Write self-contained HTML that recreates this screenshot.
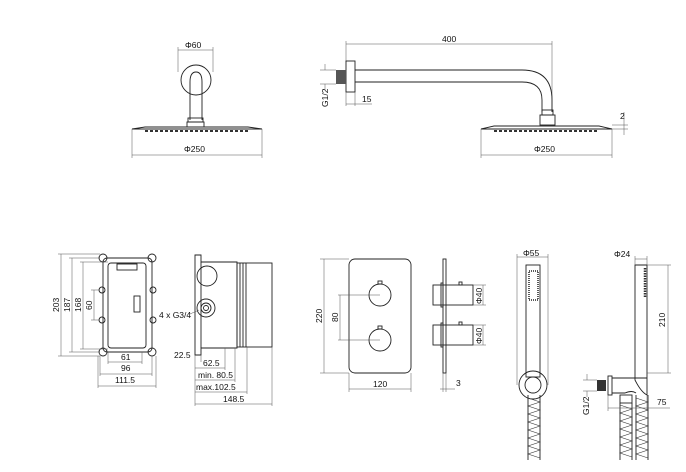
<!DOCTYPE html>
<html><head><meta charset="utf-8"><style>
html,body{margin:0;padding:0;background:#fff;width:686px;height:472px;overflow:hidden}
svg{display:block}
text{font-family:"Liberation Sans",sans-serif;font-size:8.5px;fill:#111}
.o{fill:none;stroke:#222;stroke-width:0.9}
.d{fill:none;stroke:#555;stroke-width:0.5}
</style></head><body>
<svg width="686" height="472" viewBox="0 0 686 472" xmlns="http://www.w3.org/2000/svg">
<line class="d" x1="178" y1="50" x2="213" y2="50"/><line class="d" x1="178" y1="47" x2="178" y2="72"/><line class="d" x1="213" y1="47" x2="213" y2="72"/>
<text x="185" y="48">Φ60</text>
<circle class="o" cx="196" cy="80" r="15"/>
<path class="o" d="M190 120 V82 Q190 72 196 72 Q202 72 202 82 V120"/>
<rect class="o" x="188" y="118" width="15" height="4"/><rect class="o" x="187" y="122" width="17" height="5"/>
<path class="o" d="M132 129 L145 127 H248 L262 129 Z"/>
<line x1="145" y1="131" x2="248" y2="131" stroke="#333" stroke-width="2" stroke-dasharray="3 2"/>
<line class="d" x1="132" y1="129" x2="132" y2="158"/><line class="d" x1="262" y1="129" x2="262" y2="158"/>
<line class="d" x1="132" y1="155" x2="262" y2="155"/>
<text x="184" y="152">Φ250</text>
<line class="d" x1="346" y1="44" x2="552" y2="44"/><line class="d" x1="346" y1="41" x2="346" y2="62"/><line class="d" x1="552" y1="41" x2="552" y2="110"/>
<text x="442" y="42">400</text>
<rect class="o" x="346" y="61" width="9" height="31"/>
<rect x="336" y="70" width="10" height="14" fill="#555"/>
<path class="o" d="M355 70 H522 Q552 70 552 100 V112 M355 82 H522 Q542 82 542 100 V112"/>
<rect class="o" x="542" y="110" width="11" height="5"/><rect class="o" x="540" y="115" width="15" height="10"/>
<path class="o" d="M481 129 L494 126 H599 L612 129 Z"/>
<line x1="494" y1="131" x2="599" y2="131" stroke="#333" stroke-width="2" stroke-dasharray="3 2"/>
<line class="d" x1="481" y1="129" x2="481" y2="158"/><line class="d" x1="612" y1="129" x2="612" y2="158"/>
<line class="d" x1="481" y1="155" x2="612" y2="155"/>
<text x="534" y="152">Φ250</text>
<line class="d" x1="320" y1="70" x2="336" y2="70"/><line class="d" x1="320" y1="84" x2="336" y2="84"/>
<line class="d" x1="325" y1="64" x2="325" y2="70"/><line class="d" x1="325" y1="84" x2="325" y2="90"/>
<text transform="translate(328,107) rotate(-90)">G1/2</text>
<line class="d" x1="346" y1="92" x2="346" y2="106"/><line class="d" x1="355" y1="92" x2="355" y2="106"/><line class="d" x1="346" y1="104" x2="372" y2="104"/>
<text x="362" y="102">15</text>
<line class="d" x1="612" y1="125" x2="628" y2="125"/><line class="d" x1="612" y1="129" x2="628" y2="129"/>
<line class="d" x1="624" y1="112" x2="624" y2="135"/>
<text x="620" y="119">2</text>
<rect class="o" x="103" y="258" width="49" height="94" rx="4"/>
<rect class="o" x="108" y="263" width="38" height="85" rx="3"/>
<g class="o"><circle cx="103" cy="258" r="4"/><circle cx="152" cy="258" r="4"/><circle cx="103" cy="352" r="4"/><circle cx="152" cy="352" r="4"/><circle cx="102" cy="290" r="3"/><circle cx="153" cy="290" r="3"/><circle cx="102" cy="320" r="3"/><circle cx="153" cy="320" r="3"/></g>
<rect class="o" x="117" y="264" width="20" height="6"/><rect class="o" x="134" y="296" width="6" height="16"/>
<g class="d"><line x1="58" y1="254" x2="100" y2="254"/><line x1="58" y1="356" x2="100" y2="356"/><line x1="61" y1="254" x2="61" y2="356"/>
<line x1="69" y1="258" x2="100" y2="258"/><line x1="69" y1="352" x2="100" y2="352"/><line x1="72" y1="258" x2="72" y2="352"/>
<line x1="80" y1="262" x2="108" y2="262"/><line x1="80" y1="349" x2="108" y2="349"/><line x1="83" y1="262" x2="83" y2="349"/>
<line x1="91" y1="290" x2="100" y2="290"/><line x1="91" y1="320" x2="100" y2="320"/><line x1="94" y1="290" x2="94" y2="320"/>
<line x1="108" y1="352" x2="108" y2="364"/><line x1="142" y1="352" x2="142" y2="364"/><line x1="108" y1="362" x2="142" y2="362"/>
<line x1="100" y1="356" x2="100" y2="376"/><line x1="152" y1="356" x2="152" y2="376"/><line x1="100" y1="374" x2="152" y2="374"/>
<line x1="98" y1="356" x2="98" y2="388"/><line x1="156" y1="356" x2="156" y2="388"/><line x1="98" y1="386" x2="156" y2="386"/></g>
<text transform="translate(59,312) rotate(-90)">203</text>
<text transform="translate(70,312) rotate(-90)">187</text>
<text transform="translate(81,312) rotate(-90)">168</text>
<text transform="translate(92,310) rotate(-90)">60</text>
<text x="121" y="360">61</text><text x="121" y="371">96</text><text x="115" y="383">111.5</text>
<path class="o" d="M195 255 H201 V262 H237 V348 H201 V355 H195 Z"/>
<line class="o" x1="201" y1="262" x2="201" y2="348"/>
<circle class="o" cx="207" cy="276" r="10"/>
<circle class="o" cx="206" cy="308" r="9"/><circle class="o" cx="206" cy="308" r="5"/><circle class="o" cx="206" cy="308" r="2.5"/>
<rect class="o" x="237" y="263" width="35" height="84"/>
<g class="o"><line x1="240" y1="263" x2="240" y2="347"/><line x1="243" y1="263" x2="243" y2="347"/><line x1="246" y1="263" x2="246" y2="347"/></g>
<line class="d" x1="190" y1="314" x2="199" y2="310"/>
<text x="159" y="318">4 x G3/4</text>
<text x="174" y="358">22.5</text>
<g class="d"><line x1="195" y1="355" x2="195" y2="406"/><line x1="201" y1="355" x2="201" y2="362"/><line x1="225" y1="348" x2="225" y2="370"/><line x1="235" y1="348" x2="235" y2="382"/><line x1="247" y1="347" x2="247" y2="394"/><line x1="272" y1="347" x2="272" y2="406"/>
<line x1="195" y1="368" x2="225" y2="368"/><line x1="195" y1="380" x2="235" y2="380"/><line x1="195" y1="392" x2="247" y2="392"/><line x1="195" y1="404" x2="272" y2="404"/></g>
<text x="203" y="366">62.5</text><text x="198" y="378">min. 80.5</text><text x="196" y="390">max.102.5</text><text x="223" y="402">148.5</text>
<rect class="o" x="349" y="259" width="62" height="114" rx="6"/>
<circle class="o" cx="380" cy="295" r="11"/><circle class="o" cx="380" cy="340" r="11"/>
<rect class="o" x="378" y="281" width="4" height="3"/><rect class="o" x="378" y="326" width="4" height="3"/>
<g class="d"><line x1="320" y1="259" x2="349" y2="259"/><line x1="320" y1="373" x2="349" y2="373"/><line x1="324" y1="259" x2="324" y2="373"/>
<line x1="338" y1="295" x2="380" y2="295"/><line x1="338" y1="340" x2="380" y2="340"/><line x1="340" y1="295" x2="340" y2="340"/>
<line x1="349" y1="373" x2="349" y2="392"/><line x1="411" y1="373" x2="411" y2="392"/><line x1="349" y1="389" x2="411" y2="389"/></g>
<text transform="translate(322,323) rotate(-90)">220</text>
<text transform="translate(338,322) rotate(-90)">80</text>
<text x="373" y="387">120</text>
<rect class="o" x="443" y="259" width="3" height="114"/>
<rect class="o" x="433" y="285" width="40" height="20"/><rect class="o" x="433" y="325" width="40" height="20"/>
<rect class="o" x="441" y="283" width="2" height="24"/><rect class="o" x="441" y="323" width="2" height="24"/>
<rect class="o" x="459" y="282" width="3" height="3"/><rect class="o" x="459" y="322" width="3" height="3"/>
<g class="d"><line x1="473" y1="285" x2="486" y2="285"/><line x1="473" y1="305" x2="486" y2="305"/><line x1="483" y1="285" x2="483" y2="305"/>
<line x1="473" y1="325" x2="486" y2="325"/><line x1="473" y1="345" x2="486" y2="345"/><line x1="483" y1="325" x2="483" y2="345"/>
<line x1="443" y1="373" x2="443" y2="392"/><line x1="446" y1="373" x2="446" y2="392"/><line x1="440" y1="389" x2="455" y2="389"/></g>
<text transform="translate(482,304) rotate(-90)">Φ40</text>
<text transform="translate(482,344) rotate(-90)">Φ40</text>
<text x="456" y="386">3</text>
<rect class="o" x="526" y="265" width="14" height="112"/>
<rect x="529" y="271" width="9" height="29" fill="none" stroke="#222" stroke-width="1.5" stroke-dasharray="1 1"/>
<circle class="o" cx="533" cy="385" r="14"/><circle class="o" cx="533" cy="385" r="8"/>
<path class="o" d="M528 395 V460 M540 395 V460"/>
<path d="M528 398 L540 402 L528 406 L540 410 L528 414 L540 418 L528 422 L540 426 L528 430 L540 434 L528 438 L540 442 L528 446 L540 450 L528 454 L540 458" fill="none" stroke="#333" stroke-width="0.6"/>
<g class="d"><line x1="517" y1="257" x2="548" y2="257"/><line x1="517" y1="254" x2="517" y2="385"/><line x1="548" y1="254" x2="548" y2="385"/></g>
<text x="523" y="256">Φ55</text>
<path class="o" d="M635 265 H647 V395 Q641 392 635 380 Z"/>
<line x1="645" y1="268" x2="645" y2="297" stroke="#333" stroke-width="2.5" stroke-dasharray="1.5 1"/>
<rect class="o" x="608" y="376" width="4" height="19"/>
<rect x="597" y="380" width="9" height="11" fill="#333"/>
<path class="o" d="M612 378 H647 M612 393 H625 Q632 390 636 393"/>
<rect class="o" x="620" y="395" width="12" height="8"/>
<path class="o" d="M620 403 V460 M632 403 V460 M636 395 V460 M648 395 V460"/>
<path d="M620 405 L632 409 L620 413 L632 417 L620 421 L632 425 L620 429 L632 433 L620 437 L632 441 L620 445 L632 449 L620 453 L632 457 M636 398 L648 402 L636 406 L648 410 L636 414 L648 418 L636 422 L648 426 L636 430 L648 434 L636 438 L648 442 L636 446 L648 450 L636 454 L648 458" fill="none" stroke="#333" stroke-width="0.6"/>
<g class="d"><line x1="635" y1="259" x2="647" y2="259"/><line x1="635" y1="256" x2="635" y2="265"/><line x1="647" y1="256" x2="647" y2="265"/>
<line x1="647" y1="265" x2="671" y2="265"/><line x1="647" y1="373" x2="671" y2="373"/><line x1="668" y1="265" x2="668" y2="373"/>
<line x1="583" y1="380" x2="597" y2="380"/><line x1="583" y1="391" x2="597" y2="391"/><line x1="587" y1="374" x2="587" y2="380"/><line x1="587" y1="391" x2="587" y2="397"/>
<line x1="608" y1="395" x2="608" y2="411"/><line x1="647" y1="395" x2="647" y2="411"/><line x1="608" y1="408" x2="670" y2="408"/></g>
<text x="614" y="257">Φ24</text>
<text transform="translate(665,327) rotate(-90)">210</text>
<text transform="translate(589,415) rotate(-90)">G1/2</text>
<text x="657" y="405">75</text>
</svg>
</body></html>
